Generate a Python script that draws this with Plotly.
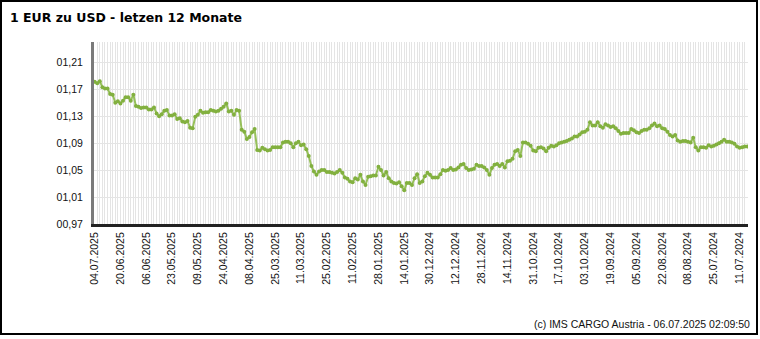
import pandas as pd
import plotly.graph_objects as go

# ---- data -------------------------------------------------------------
holidays = ["2024-12-25", "2024-12-26", "2025-01-01",
            "2025-04-18", "2025-04-21", "2025-05-01"]
days = pd.bdate_range("2024-07-08", "2025-07-04")
days = [d for d in days if d.strftime("%Y-%m-%d") not in holidays][::-1]
dates = [d.strftime("%d.%m.%Y") for d in days]          # newest first

rate = [
    1.181, 1.179, 1.182, 1.173, 1.171, 1.171, 1.163, 1.162, 1.150, 1.152,
    1.149, 1.153, 1.158, 1.158, 1.153, 1.162, 1.145, 1.144, 1.142, 1.143,
    1.143, 1.140, 1.140, 1.143, 1.134, 1.130, 1.133, 1.138, 1.139, 1.131,
    1.131, 1.133, 1.126, 1.127, 1.122, 1.121, 1.123, 1.113, 1.112, 1.129,
    1.132, 1.138, 1.135, 1.136, 1.136, 1.139, 1.138, 1.137, 1.138, 1.141,
    1.144, 1.149, 1.137, 1.138, 1.132, 1.139, 1.138, 1.110, 1.107, 1.096,
    1.099, 1.106, 1.111, 1.080, 1.079, 1.083, 1.081, 1.079, 1.080, 1.084,
    1.084, 1.084, 1.084, 1.091, 1.092, 1.092, 1.090, 1.084, 1.090, 1.092,
    1.087, 1.088, 1.081, 1.071, 1.056, 1.048, 1.043, 1.048, 1.050, 1.050,
    1.047, 1.047, 1.046, 1.045, 1.047, 1.050, 1.046, 1.039, 1.037, 1.033,
    1.032, 1.038, 1.036, 1.043, 1.033, 1.028, 1.040, 1.041, 1.042, 1.042,
    1.055,
    1.050, 1.042, 1.047, 1.038, 1.033, 1.031, 1.030, 1.032, 1.026, 1.020,
    1.031, 1.031, 1.028, 1.038, 1.044, 1.031, 1.033, 1.041, 1.046, 1.043,
    1.039, 1.039, 1.039, 1.044, 1.050, 1.049, 1.050, 1.053, 1.050, 1.051,
    1.054, 1.058, 1.059, 1.053, 1.050, 1.051, 1.052, 1.058, 1.056, 1.056,
    1.054, 1.050, 1.043, 1.053, 1.058, 1.059, 1.056, 1.059, 1.054, 1.063,
    1.064, 1.067, 1.078, 1.080, 1.071, 1.091, 1.091, 1.089, 1.086, 1.079,
    1.078, 1.083, 1.084, 1.082, 1.078, 1.083, 1.086, 1.085, 1.087, 1.090,
    1.091, 1.092, 1.093, 1.095, 1.097, 1.100, 1.100, 1.103, 1.106, 1.107,
    1.110, 1.121, 1.116, 1.116, 1.121, 1.115, 1.113, 1.118, 1.116, 1.114,
    1.115, 1.112, 1.108, 1.104, 1.105, 1.105, 1.105, 1.111, 1.109, 1.106,
    1.105, 1.108, 1.110, 1.110, 1.112, 1.116, 1.119, 1.115, 1.116, 1.112,
    1.111, 1.107, 1.102, 1.100, 1.102, 1.094, 1.092, 1.093, 1.093, 1.092,
    1.091, 1.098, 1.084, 1.079, 1.084, 1.084, 1.083, 1.087, 1.085, 1.086,
    1.088, 1.090, 1.092, 1.095, 1.092, 1.092, 1.091, 1.089, 1.085, 1.083,
    1.084, 1.085, 1.085,
]

y_ticks = [0.97, 1.01, 1.05, 1.09, 1.13, 1.17, 1.21]
y_ticktext = ["00,97", "01,01", "01,05", "01,09", "01,13", "01,17", "01,21"]

title = "1 EUR zu USD - letzen 12 Monate"
footer = "(c) IMS CARGO Austria - 06.07.2025 02:09:50"

# ---- figure -----------------------------------------------------------
W, H = 760, 339
L, R, T, B = 94, 12, 42, 115
pw, ph = W - L - R, H - T - B


def px(x):
    return (x - L) / pw


def py(y):
    return (H - B - y) / ph


x_ticktext = [d if i % 10 == 0 else "" for i, d in enumerate(dates)]

fig = go.Figure()
fig.add_trace(go.Scatter(
    x=dates, y=rate, mode="lines+markers",
    line=dict(color="#96c05a", width=2),
    marker=dict(color="#82b03f", size=4),
    hoverinfo="x+y", showlegend=False,
))

fig.update_layout(
    width=W, height=H,
    margin=dict(l=L, r=R, t=T, b=B, pad=0),
    paper_bgcolor="white", plot_bgcolor="white",
    font=dict(family="Liberation Sans, Arial, sans-serif", size=10, color="#111"),
    xaxis=dict(
        type="category", categoryorder="array", categoryarray=dates,
        range=[-0.25, len(dates) - 0.75],
        tickmode="array", tickvals=dates, ticktext=x_ticktext,
        tickangle=-90, tickfont=dict(size=10.5, color="#111"),
        showgrid=True, gridcolor="#e4e4e4", gridwidth=1,
        showline=True, linecolor="#222", linewidth=3,
        ticks="", ticklabelstandoff=1, zeroline=False, fixedrange=True,
    ),
    yaxis=dict(
        range=[0.97, 1.2401],
        tickmode="array", tickvals=y_ticks, ticktext=y_ticktext,
        tickfont=dict(size=10.5, color="#111"),
        showgrid=True, gridcolor="#e4e4e4", gridwidth=1,
        showline=True, linecolor="#7a7a7a", linewidth=3,
        ticks="", ticklabelstandoff=6, zeroline=False, fixedrange=True,
    ),
    annotations=[
        dict(text="<b>" + title + "</b>", x=px(8), y=py(17),
             xref="paper", yref="paper", xanchor="left", yanchor="middle",
             showarrow=False,
             font=dict(family="DejaVu Sans, Verdana, sans-serif", size=12.5, color="#000")),
        dict(text=footer, x=px(752), y=py(324),
             xref="paper", yref="paper", xanchor="right", yanchor="middle",
             showarrow=False,
             font=dict(family="Liberation Sans, Arial, sans-serif", size=10.5, color="#111")),
    ],
    shapes=[
        dict(type="rect", xref="paper", yref="paper",
             x0=px(1), x1=px(757), y0=py(334), y1=py(1),
             line=dict(color="#000", width=2), fillcolor="rgba(0,0,0,0)",
             layer="above"),
    ],
)

fig.write_html("out.html")
